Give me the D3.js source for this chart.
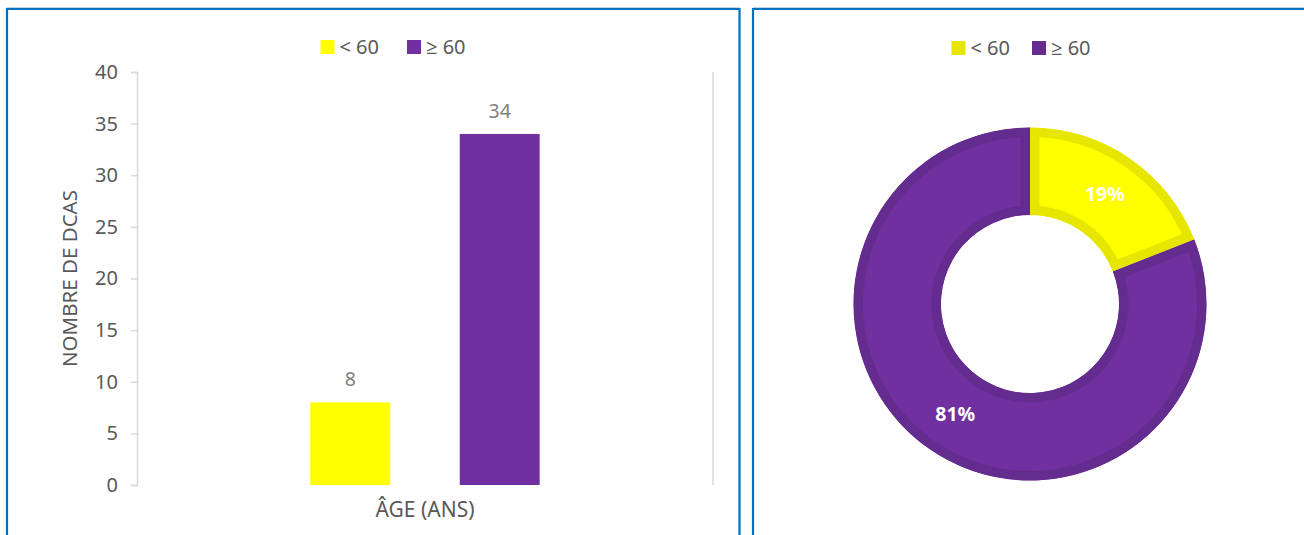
<!DOCTYPE html>
<html>
<head>
<meta charset="utf-8">
<script src="https://cdn.jsdelivr.net/npm/d3@7"></script>
<style>
  html, body { margin: 0; padding: 0; background: #fff; }
  svg { display: block; font-family: "Noto Sans", "Open Sans", sans-serif; }
</style>
</head>
<body>
<svg id="chart" width="1304" height="535"></svg>
<script>
// Age groups of the DCAS cohort
const seriesNames = ["< 60", "≥ 60"];
const seriesCounts = [8, 34];
const categoryLabel = "ÂGE (ANS)";
const yTicks = [0, 5, 10, 15, 20, 25, 30, 35, 40];
const yTitle = "NOMBRE DE DCAS";

const fillColors = ["#FFFF00", "#7030A0"];
const edgeColors = ["#E6E600", "#652C90"];
const panelBlue = "#0070C0";

const svg = d3.select("#chart");
const defs = svg.append("defs");

// Two framed panels (open at the bottom)
function panelFrame(x0, x1, y0) {
  svg.append("path")
    .attr("d", `M${x0},540 L${x0},${y0} L${x1},${y0} L${x1},540`)
    .attr("fill", "none").attr("stroke", "#BDD7EE").attr("stroke-width", 1)
    .attr("transform", "translate(0,-1.5)");
  svg.append("path")
    .attr("d", `M${x0},540 L${x0},${y0} L${x1},${y0} L${x1},540`)
    .attr("fill", "none").attr("stroke", panelBlue).attr("stroke-width", 2.2);
}
panelFrame(7, 739.5, 9);
panelFrame(753, 1320, 9);

// Legend helper
function legend(cx, y, colors, gap) {
  const g = svg.append("g");
  let x = 0;
  seriesNames.forEach((name, i) => {
    const it = g.append("g").attr("transform", `translate(${x},0)`);
    it.append("rect").attr("x", 0).attr("y", y - 7).attr("width", 14).attr("height", 14)
      .attr("fill", colors[i]);
    const t = it.append("text").attr("x", 19).attr("y", y).attr("dy", "0.35em")
      .attr("font-size", 20).attr("fill", "#595959").text(name);
    x += 19 + t.node().getComputedTextLength() + gap;
  });
  const total = x - gap;
  g.attr("transform", `translate(${cx - total / 2},0)`);
}

// ---------- Bar chart ----------
const plot = { left: 137, right: 713, top: 72, bottom: 485 };

const y = d3.scaleLinear().domain([0, 40]).range([plot.bottom, plot.top]);
const xCat = d3.scaleBand().domain([categoryLabel]).range([plot.left, plot.right]);
const xSeries = d3.scaleBand().domain(seriesNames)
  .range([0, xCat.bandwidth()]).paddingInner(0.465).paddingOuter(1.16);

// plot-area side line
svg.append("line").attr("x1", plot.right).attr("x2", plot.right)
  .attr("y1", y(40)).attr("y2", y(0)).attr("stroke", "#D9D9D9").attr("stroke-width", 1.5);

const yAxis = d3.axisLeft(y).tickValues(yTicks).tickSize(6).tickPadding(13);
const ga = svg.append("g").attr("transform", `translate(${plot.left},0)`).call(yAxis);
ga.select(".domain").attr("stroke", "#D9D9D9").attr("stroke-width", 1.5);
ga.selectAll(".tick line").attr("stroke", "#D9D9D9").attr("stroke-width", 1.5);
ga.selectAll(".tick text").attr("font-size", 20).attr("fill", "#595959")
  .attr("font-family", "'Noto Sans', sans-serif");

svg.append("text")
  .attr("transform", `translate(77,${(plot.top + plot.bottom) / 2}) rotate(-90)`)
  .attr("text-anchor", "middle").attr("font-size", 20.5).attr("fill", "#595959")
  .text(yTitle);

svg.append("text")
  .attr("x", xCat(categoryLabel) + xCat.bandwidth() / 2).attr("y", 510)
  .attr("dy", "0.35em").attr("text-anchor", "middle")
  .attr("font-size", 21).attr("fill", "#595959").text(categoryLabel);

const bars = svg.append("g");
seriesNames.forEach((name, i) => {
  const bx = xCat(categoryLabel) + xSeries(name);
  bars.append("rect")
    .attr("x", bx).attr("y", y(seriesCounts[i]))
    .attr("width", xSeries.bandwidth())
    .attr("height", y(0) - y(seriesCounts[i]))
    .attr("fill", fillColors[i]);
  bars.append("text")
    .attr("x", bx + xSeries.bandwidth() / 2).attr("y", y(seriesCounts[i]) - 23)
    .attr("dy", "0.35em").attr("text-anchor", "middle")
    .attr("font-size", 19.5).attr("fill", "#7F7F7F").text(seriesCounts[i]);
});

legend(393, 47, fillColors, 28);

// ---------- Donut chart ----------
const center = { x: 1030, y: 304 };
const total = d3.sum(seriesCounts);
const pie = d3.pie().sort(null).value(d => d)(seriesCounts);
const arc = d3.arc().innerRadius(89).outerRadius(176.5);

const donut = svg.append("g").attr("transform", `translate(${center.x},${center.y})`);

// each slice keeps its border on its own side of the edges
pie.forEach((d, i) => {
  defs.append("clipPath").attr("id", "slice-clip-" + i)
    .append("path").attr("d", arc(d));
});

donut.selectAll("path").data(pie).join("path")
  .attr("d", arc)
  .attr("fill", (d, i) => fillColors[i])
  .attr("stroke", (d, i) => edgeColors[i])
  .attr("stroke-width", 19)
  .attr("stroke-linejoin", "miter")
  .attr("clip-path", (d, i) => `url(#slice-clip-${i})`);

donut.selectAll("text").data(pie).join("text")
  .attr("transform", d => `translate(${arc.centroid(d)})`)
  .attr("text-anchor", "middle").attr("dy", "0.35em")
  .attr("font-size", 19.5).attr("font-weight", "bold").attr("fill", "#FFFFFF")
  .text(d => Math.round(d.data / total * 100) + "%");

legend(1021, 48, edgeColors, 22);
</script>
</body>
</html>
